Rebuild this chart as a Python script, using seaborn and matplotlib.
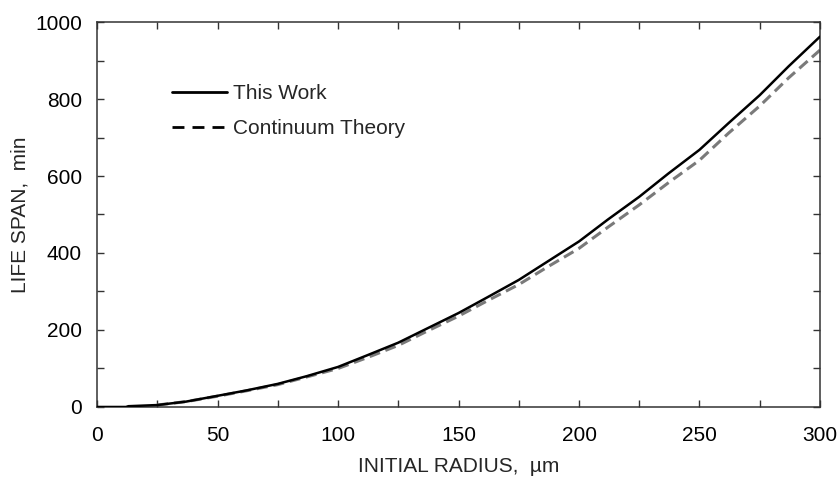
import numpy as np
import pandas as pd
import matplotlib
matplotlib.use("Agg")
import matplotlib.pyplot as plt
from matplotlib.lines import Line2D
from matplotlib.ticker import MultipleLocator
import seaborn as sns

# Life span vs. initial radius
radius_work = [0, 12, 13, 25, 37, 50, 62, 75, 87, 100, 112, 125, 137, 150, 162, 175,
               187, 200, 212, 225, 237, 250, 262, 275, 287, 300]
life_work = [0, 0, 2, 5, 14, 29, 43, 60, 80, 104, 134, 167, 204, 244, 285, 330,
             378, 430, 487, 546, 606, 668, 737, 810, 885, 962]

radius_cont = [25, 37, 50, 62, 75, 87, 100, 112, 125, 137, 150, 162, 175, 187,
               200, 212, 225, 237, 250, 262, 275, 287, 300]
life_cont = [5, 14, 28, 42, 58, 78, 100, 128, 160, 197, 236, 276, 318, 364,
             412, 467, 525, 582, 641, 711, 782, 855, 927]

series_labels = ["This Work", "Continuum Theory"]

sns.set_theme(style="ticks")
plt.rcParams["font.family"] = ["Liberation Sans", "DejaVu Sans"]

fig = plt.figure(figsize=(8.38, 4.86), dpi=100)
ax = fig.add_axes([0.1158, 0.1626, 0.8627, 0.7921])

df_work = pd.DataFrame({"r": radius_work, "t": life_work})
df_cont = pd.DataFrame({"r": radius_cont, "t": life_cont})

sns.lineplot(data=df_cont, x="r", y="t", ax=ax, color="#7a7a7a", lw=2.2,
             linestyle=(0, (3.6, 1.9)), zorder=2)
sns.lineplot(data=df_work, x="r", y="t", ax=ax, color="black", lw=1.8, zorder=3)

ax.set_xlim(0, 300)
ax.set_ylim(0, 1000)
ax.xaxis.set_major_locator(MultipleLocator(50))
ax.xaxis.set_minor_locator(MultipleLocator(25))
ax.yaxis.set_major_locator(MultipleLocator(200))
ax.yaxis.set_minor_locator(MultipleLocator(100))
ax.tick_params(which="both", direction="in", top=True, right=True,
               length=5, width=1, color="#333333", labelsize=15,
               labelcolor="black")
ax.tick_params(axis="x", which="major", pad=14)
ax.tick_params(axis="y", which="major", pad=11)

for sp in ax.spines.values():
    sp.set_color("#333333")
    sp.set_linewidth(1.1)

ax.set_xlabel("INITIAL RADIUS,  µm", fontsize=15, labelpad=8)
ax.set_ylabel("LIFE SPAN,  min", fontsize=15, labelpad=4)

handles = [Line2D([], [], color="black", lw=2.0),
           Line2D([], [], color="black", lw=2.0, linestyle=(0, (4.3, 2.9)))]
ax.legend(handles, series_labels, loc="upper left",
          bbox_to_anchor=(0.104, 0.838), frameon=False, fontsize=15,
          handlelength=2.65, handletextpad=0.25, labelspacing=0.75,
          borderaxespad=0, borderpad=0)

fig.savefig("out.png", dpi=100)
